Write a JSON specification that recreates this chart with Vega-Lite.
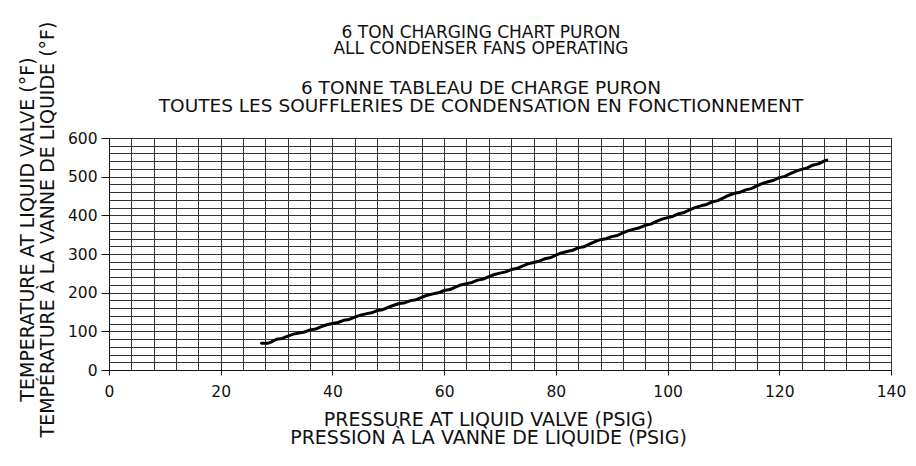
{
  "$schema": "https://vega.github.io/schema/vega-lite/v6.json",
  "width": 782,
  "height": 232,
  "autosize": "none",
  "padding": {"left": 109, "top": 138, "right": 25, "bottom": 96},
  "background": "white",
  "config": {
    "font": "DejaVu Sans",
    "view": {"stroke": "#222", "strokeWidth": 1}
  },
  "title": {
    "text": ["6 TON CHARGING CHART PURON", "ALL CONDENSER FANS OPERATING"],
    "subtitle": ["6 TONNE TABLEAU DE CHARGE PURON", "TOUTES LES SOUFFLERIES DE CONDENSATION EN FONCTIONNEMENT"],
    "font": "DejaVu Sans",
    "subtitleFont": "DejaVu Sans",
    "fontSize": 17,
    "subtitleFontSize": 18.5,
    "fontWeight": "normal",
    "lineHeight": 16,
    "subtitleLineHeight": 18,
    "subtitlePadding": 21,
    "color": "#111",
    "subtitleColor": "#111",
    "anchor": "middle",
    "dx": -19,
    "dy": 95,
    "offset": 0
  },
  "data": {
    "values": [
      {"psig": 27.3, "temp": 69}, {"psig": 28.5, "temp": 69.5}, {"psig": 29, "temp": 72},
      {"psig": 30, "temp": 79.5}, {"psig": 31, "temp": 81.6}, {"psig": 32, "temp": 87.7},
      {"psig": 33, "temp": 92.7}, {"psig": 34, "temp": 95.7}, {"psig": 35, "temp": 98.3},
      {"psig": 36, "temp": 103.8}, {"psig": 37, "temp": 105.9}, {"psig": 38, "temp": 112},
      {"psig": 39, "temp": 117.1}, {"psig": 40, "temp": 120.2}, {"psig": 41, "temp": 122.9},
      {"psig": 42, "temp": 128.5}, {"psig": 43, "temp": 130.7}, {"psig": 44, "temp": 136.8},
      {"psig": 45, "temp": 142}, {"psig": 46, "temp": 145.2}, {"psig": 47, "temp": 147.9},
      {"psig": 48, "temp": 153.6}, {"psig": 49, "temp": 155.9}, {"psig": 50, "temp": 162.2},
      {"psig": 51, "temp": 167.5}, {"psig": 52, "temp": 172}, {"psig": 53, "temp": 174.2},
      {"psig": 54, "temp": 179.4}, {"psig": 55, "temp": 181.8}, {"psig": 56, "temp": 188.1},
      {"psig": 57, "temp": 193.5}, {"psig": 58, "temp": 196.8}, {"psig": 59, "temp": 199.7},
      {"psig": 60, "temp": 205.6}, {"psig": 61, "temp": 208}, {"psig": 62, "temp": 214.5},
      {"psig": 63, "temp": 220}, {"psig": 64, "temp": 223.4}, {"psig": 65, "temp": 226.4},
      {"psig": 66, "temp": 232.4}, {"psig": 67, "temp": 235}, {"psig": 68, "temp": 241.5},
      {"psig": 69, "temp": 247}, {"psig": 70, "temp": 250.6}, {"psig": 71, "temp": 253.7},
      {"psig": 72, "temp": 259.7}, {"psig": 73, "temp": 262.3}, {"psig": 74, "temp": 268.9},
      {"psig": 75, "temp": 274.5}, {"psig": 76, "temp": 278.2}, {"psig": 77, "temp": 281.4},
      {"psig": 78, "temp": 287.6}, {"psig": 79, "temp": 290.3}, {"psig": 80, "temp": 297},
      {"psig": 81, "temp": 302.7}, {"psig": 82, "temp": 306.4}, {"psig": 83, "temp": 309.7},
      {"psig": 84, "temp": 315.9}, {"psig": 85, "temp": 318.7}, {"psig": 86, "temp": 325.5},
      {"psig": 87, "temp": 332.2}, {"psig": 88, "temp": 337}, {"psig": 89, "temp": 339.5},
      {"psig": 90, "temp": 344.9}, {"psig": 91, "temp": 347.8}, {"psig": 92, "temp": 354.6},
      {"psig": 93, "temp": 360.5}, {"psig": 94, "temp": 364.4}, {"psig": 95, "temp": 367.9},
      {"psig": 96, "temp": 374.3}, {"psig": 97, "temp": 377.3}, {"psig": 98, "temp": 384.3},
      {"psig": 99, "temp": 390.3}, {"psig": 100, "temp": 394.2}, {"psig": 101, "temp": 397.8},
      {"psig": 102, "temp": 404.3}, {"psig": 103, "temp": 407.4}, {"psig": 104, "temp": 414.4},
      {"psig": 105, "temp": 420.5}, {"psig": 106, "temp": 424.6}, {"psig": 107, "temp": 428.2},
      {"psig": 108, "temp": 434.8}, {"psig": 109, "temp": 438}, {"psig": 110, "temp": 445.1},
      {"psig": 111, "temp": 452}, {"psig": 112, "temp": 457}, {"psig": 113, "temp": 459.9},
      {"psig": 114, "temp": 465.8}, {"psig": 115, "temp": 469}, {"psig": 116, "temp": 476.3},
      {"psig": 117, "temp": 482.6}, {"psig": 118, "temp": 486.9}, {"psig": 119, "temp": 490.7},
      {"psig": 120, "temp": 497.5}, {"psig": 121, "temp": 500.8}, {"psig": 122, "temp": 508.1},
      {"psig": 123, "temp": 514.5}, {"psig": 124, "temp": 518.8}, {"psig": 125, "temp": 522.7},
      {"psig": 126, "temp": 529.6}, {"psig": 127, "temp": 533}, {"psig": 128, "temp": 540.4},
      {"psig": 128.5, "temp": 543}
    ]
  },
  "mark": {"type": "line", "color": "#000", "strokeWidth": 3, "strokeJoin": "round", "strokeCap": "round"},
  "encoding": {
    "x": {
      "field": "psig",
      "type": "quantitative",
      "scale": {"domain": [0, 140], "nice": false, "zero": false},
      "axis": {
        "values": [0, 4, 8, 12, 16, 20, 24, 28, 32, 36, 40, 44, 48, 52, 56, 60, 64, 68, 72, 76, 80, 84, 88, 92, 96, 100, 104, 108, 112, 116, 120, 124, 128, 132, 136, 140],
        "labelExpr": "datum.value % 20 === 0 ? datum.label : ''",
        "tickOpacity": {"expr": "datum.value % 20 === 0 ? 1 : 0"},
        "grid": true,
        "gridColor": "#333",
        "gridOpacity": 1,
        "gridWidth": 1,
        "domainColor": "#111",
        "tickColor": "#111",
        "tickSize": 5,
        "labelPadding": 9,
        "labelFontSize": 15.5,
        "labelColor": "#111",
        "labelFont": "DejaVu Sans",
        "labelFlush": false,
        "title": ["PRESSURE AT LIQUID VALVE (PSIG)", "PRESSION À LA VANNE DE LIQUIDE (PSIG)"],
        "titleFont": "DejaVu Sans",
        "titleFontSize": 19,
        "titleFontWeight": "normal",
        "titleColor": "#111",
        "titleLineHeight": 18,
        "titleX": 379,
        "titleY": 55.5,
        "titleBaseline": "alphabetic"
      }
    },
    "y": {
      "field": "temp",
      "type": "quantitative",
      "scale": {"domain": [0, 600], "nice": false},
      "axis": {
        "values": [0, 20, 40, 60, 80, 100, 120, 140, 160, 180, 200, 220, 240, 260, 280, 300, 320, 340, 360, 380, 400, 420, 440, 460, 480, 500, 520, 540, 560, 580, 600],
        "labelExpr": "datum.value % 100 === 0 ? datum.label : ''",
        "tickOpacity": {"expr": "datum.value % 100 === 0 ? 1 : 0"},
        "grid": true,
        "gridColor": "#333",
        "gridOpacity": 1,
        "gridWidth": 1,
        "domainColor": "#111",
        "tickColor": "#111",
        "tickSize": 8,
        "labelPadding": 4,
        "labelFontSize": 15.5,
        "labelColor": "#111",
        "labelFont": "DejaVu Sans",
        "labelFlush": false,
        "title": ["TEMPERATURE AT LIQUID VALVE (°F)", "TEMPÉRATURE À LA VANNE DE LIQUIDE (°F)"],
        "titleFont": "DejaVu Sans",
        "titleFontSize": 19,
        "titleFontWeight": "normal",
        "titleColor": "#111",
        "titleLineHeight": 20,
        "titleAngle": -90,
        "titleX": -81.5,
        "titleY": 91,
        "titleAlign": "center",
        "titleBaseline": "middle"
      }
    }
  }
}
